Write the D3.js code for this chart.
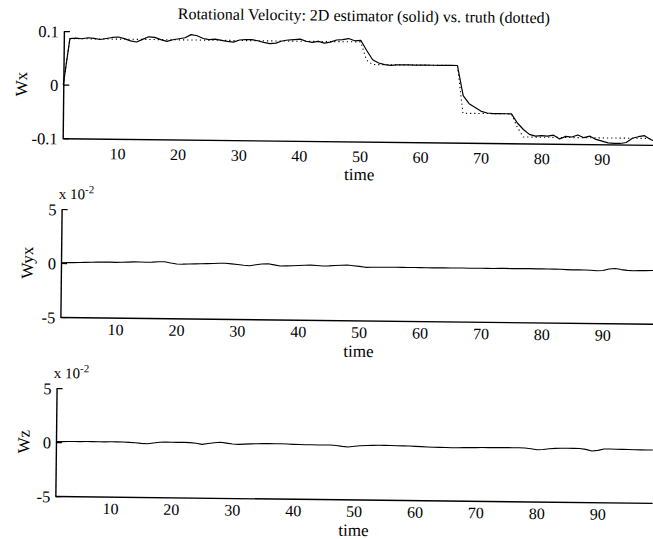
<!DOCTYPE html>
<html>
<head>
<meta charset="utf-8">
<script src="https://cdn.jsdelivr.net/npm/d3@7"></script>
<style>
  body { margin: 0; background: #fff; }
  svg { display: block; }
  text { font-family: "Liberation Serif", "Times New Roman", serif; fill: #000; }
</style>
</head>
<body>
<svg id="chart" width="653" height="539"></svg>
<script>
// Sample index (time steps 1..99)
const time = d3.range(1, 100);

// Tick values
const timeTicks = [10, 20, 30, 40, 50, 60, 70, 80, 90];
const wxTicks = [-0.1, 0, 0.1];
const smallTicks = [-5, 0, 5];

// Wx: 2D estimator (solid)
const wxEstimate = [
  0.000, 0.086, 0.087, 0.086, 0.088, 0.087, 0.085, 0.087, 0.089, 0.090,
  0.087, 0.083, 0.081, 0.086, 0.091, 0.090, 0.086, 0.083, 0.086, 0.088,
  0.090, 0.096, 0.094, 0.089, 0.087, 0.088, 0.086, 0.084, 0.083, 0.087,
  0.088, 0.088, 0.086, 0.083, 0.081, 0.082, 0.086, 0.088, 0.089, 0.090,
  0.086, 0.084, 0.086, 0.083, 0.085, 0.089, 0.090, 0.092, 0.088, 0.089,
  0.070, 0.053, 0.047, 0.044, 0.043, 0.044, 0.044, 0.044, 0.044, 0.044,
  0.044, 0.044, 0.044, 0.044, 0.044, 0.044, -0.012, -0.027, -0.034, -0.041,
  -0.044, -0.045, -0.045, -0.045, -0.045, -0.062, -0.074, -0.083, -0.086, -0.085,
  -0.086, -0.084, -0.091, -0.086, -0.087, -0.083, -0.088, -0.085, -0.091, -0.094,
  -0.097, -0.098, -0.098, -0.096, -0.088, -0.085, -0.083, -0.090, -0.094
];

// Wx: truth (dotted)
const wxTruth = [
  0.000, 0.086, 0.086, 0.086, 0.086, 0.086, 0.086, 0.086, 0.086, 0.086,
  0.086, 0.086, 0.086, 0.086, 0.086, 0.086, 0.086, 0.086, 0.086, 0.086,
  0.086, 0.086, 0.086, 0.086, 0.086, 0.086, 0.086, 0.086, 0.086, 0.086,
  0.086, 0.086, 0.086, 0.086, 0.086, 0.086, 0.086, 0.086, 0.086, 0.086,
  0.086, 0.086, 0.086, 0.086, 0.086, 0.086, 0.086, 0.086, 0.086, 0.086,
  0.052, 0.044, 0.044, 0.044, 0.044, 0.044, 0.044, 0.044, 0.044, 0.044,
  0.044, 0.044, 0.044, 0.044, 0.044, 0.044, -0.045, -0.045, -0.045, -0.045,
  -0.045, -0.045, -0.045, -0.045, -0.045, -0.070, -0.088, -0.088, -0.088, -0.088,
  -0.088, -0.088, -0.088, -0.088, -0.088, -0.088, -0.088, -0.088, -0.088, -0.088,
  -0.088, -0.088, -0.088, -0.088, -0.088, -0.088, -0.088, -0.088, -0.088
];

// Wyx estimate, in units of 1e-2
const wyxEstimate = [
  0.03, 0.04, 0.05, 0.06, 0.08, 0.10, 0.12, 0.14, 0.13, 0.12,
  0.13, 0.15, 0.18, 0.17, 0.16, 0.18, 0.22, 0.23, 0.12, 0.03,
  0.02, 0.04, 0.06, 0.08, 0.10, 0.12, 0.14, 0.15, 0.10, 0.05,
  -0.02, -0.05, 0.04, 0.12, 0.15, 0.05, -0.04, -0.03, -0.01, 0.02,
  0.05, 0.07, 0.04, 0.00, 0.02, 0.06, 0.09, 0.11, 0.06, 0.00,
  -0.08, -0.07, -0.06, -0.05, -0.05, -0.04, -0.05, -0.05, -0.04, -0.05,
  -0.05, -0.06, -0.05, -0.04, -0.05, -0.05, -0.04, -0.05, -0.05, -0.04,
  -0.05, -0.05, -0.04, -0.03, -0.05, -0.04, -0.03, -0.03, -0.04, -0.03,
  -0.04, -0.05, -0.06, -0.08, -0.10, -0.09, -0.10, -0.12, -0.15, -0.13,
  0.02, 0.08, -0.02, -0.09, -0.11, -0.10, -0.09, -0.08, -0.07
];

// Wz estimate, in units of 1e-2
const wzEstimate = [
  0.04, 0.05, 0.06, 0.07, 0.07, 0.08, 0.08, 0.08, 0.07, 0.08,
  0.08, 0.07, 0.05, 0.02, -0.03, -0.06, 0.02, 0.09, 0.11, 0.11,
  0.10, 0.11, 0.09, 0.03, -0.06, 0.02, 0.10, 0.15, 0.08, 0.00,
  -0.02, 0.01, 0.04, 0.06, 0.07, 0.08, 0.08, 0.08, 0.06, 0.04,
  0.03, 0.02, 0.02, 0.01, 0.01, 0.01, -0.03, -0.10, -0.15, -0.08,
  -0.02, 0.01, 0.03, 0.04, 0.04, 0.03, 0.02, 0.01, 0.00, -0.02,
  -0.04, -0.06, -0.08, -0.09, -0.10, -0.11, -0.10, -0.09, -0.08, -0.07,
  -0.06, -0.06, -0.05, -0.05, -0.04, -0.04, -0.04, -0.06, -0.12, -0.20,
  -0.17, -0.10, -0.06, -0.04, -0.04, -0.04, -0.04, -0.12, -0.27, -0.20,
  -0.07, -0.06, -0.07, -0.08, -0.09, -0.10, -0.11, -0.11, -0.11
];

// Plain hyphen for negative tick labels
const plain = f => d => f(d).replace("\u2212", "-");

const svg = d3.select("#chart");
// The whole figure sits slightly tilted on the page
const root = svg.append("g").attr("transform", "rotate(0.65)");

root.append("text")
  .attr("x", 364).attr("y", 17)
  .attr("text-anchor", "middle")
  .attr("font-size", 16)
  .text("Rotational Velocity: 2D estimator (solid) vs. truth (dotted)");

const panels = [
  {
    name: "Wx", x0: 58.2, k: 6.06, top: 30.3, bottom: 137.5,
    domain: [-0.1, 0.1], ticks: wxTicks,
    fmt: d => d === 0 ? "0" : plain(d3.format(".1f"))(d),
    labelX: 22.5, tickOff: 20.5, timeOff: 38.5, exponent: false,
    series: [
      { values: wxTruth, dash: "1.2,3", width: 1.1 },
      { values: wxEstimate, dash: null, width: 1.2 }
    ]
  },
  {
    name: "Wyx", x0: 57.9, k: 6.09, top: 208.3, bottom: 316.3,
    domain: [-5, 5], ticks: smallTicks, fmt: plain(d3.format("d")),
    labelX: 30.5, tickOff: 17.5, timeOff: 36.5, exponent: true,
    series: [{ values: wyxEstimate, dash: null, width: 1.1 }]
  },
  {
    name: "Wz", x0: 54.9, k: 6.09, top: 387.4, bottom: 495.4,
    domain: [-5, 5], ticks: smallTicks, fmt: plain(d3.format("d")),
    labelX: 29, tickOff: 17.5, timeOff: 36.5, exponent: true,
    series: [{ values: wzEstimate, dash: null, width: 1.1 }]
  }
];

panels.forEach(p => {
  const x = d3.scaleLinear().domain([1, 99]).range([p.x0 + p.k * 1, p.x0 + p.k * 99]);
  const y = d3.scaleLinear().domain(p.domain).range([p.bottom, p.top]);
  const g = root.append("g");

  // data lines
  const line = d3.line().x((d, i) => x(time[i])).y(d => y(d));
  p.series.forEach(s => {
    g.append("path")
      .attr("d", line(s.values))
      .attr("fill", "none")
      .attr("stroke", "#000")
      .attr("stroke-width", s.width)
      .attr("stroke-linejoin", "round")
      .attr("stroke-dasharray", s.dash);
  });

  // left axis with inward ticks
  const yAxis = d3.axisLeft(y).tickValues(p.ticks).tickFormat(p.fmt)
    .tickSizeInner(-6).tickSizeOuter(0).tickPadding(5);
  const ya = g.append("g").attr("transform", `translate(${x(1)},0)`).call(yAxis);
  ya.select(".domain").attr("stroke", "#000").attr("stroke-width", 1.4);
  ya.selectAll(".tick line").attr("stroke", "#000").attr("stroke-width", 1.2);
  ya.selectAll(".tick text").attr("font-size", 16.5).attr("font-family", "Liberation Serif").attr("dy", "0.35em");

  // bottom axis
  const xAxis = d3.axisBottom(x).tickValues(timeTicks).tickSize(0).tickSizeOuter(0);
  const xa = g.append("g").attr("transform", `translate(0,${p.bottom})`).call(xAxis);
  xa.select(".domain").attr("stroke", "#000").attr("stroke-width", 1.4);
  xa.selectAll(".tick text").attr("font-size", 16).attr("font-family", "Liberation Serif")
    .attr("y", p.tickOff).attr("dy", 0);

  // axis titles
  g.append("text")
    .attr("x", x(50)).attr("y", p.bottom + p.timeOff)
    .attr("text-anchor", "middle").attr("font-size", 17)
    .text("time");
  g.append("text")
    .attr("transform", `translate(${p.labelX},${y(0)}) rotate(-90)`)
    .attr("text-anchor", "middle").attr("dominant-baseline", "central")
    .attr("font-size", 17)
    .text(p.name);

  if (p.exponent) {
    const t = g.append("text")
      .attr("x", x(1) - 3).attr("y", p.top - 10)
      .attr("font-size", 15)
      .text("x 10");
    t.append("tspan").attr("dy", -6).attr("font-size", 11).text("-2");
  }
});
</script>
</body>
</html>
